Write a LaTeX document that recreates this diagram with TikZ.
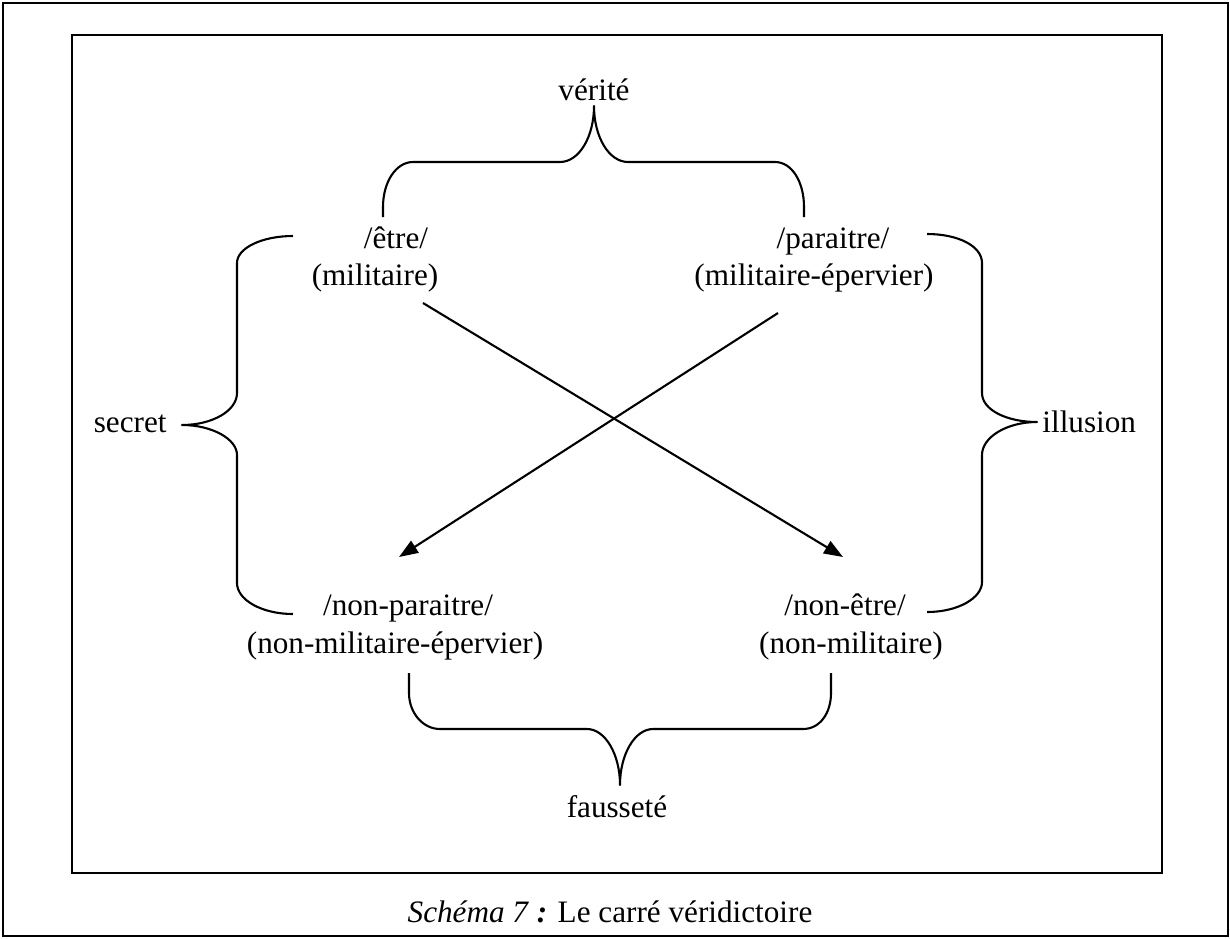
\documentclass[tikz,border=0pt]{standalone}
\usepackage{fontspec}
\setmainfont{Liberation Serif}
\usetikzlibrary{arrows.meta}
\begin{document}
\begin{tikzpicture}[x=0.5pt,y=-0.5pt,
  lbl/.style={inner sep=0pt, anchor=base, font=\fontsize{15.6}{18}\selectfont},
  bracepath/.style={line width=1.05pt, line join=round},
  frameline/.style={line width=1.3pt},
  arr/.style={line width=1.05pt, -{Triangle[length=9.5pt,width=7pt]}}]
\useasboundingbox (0,0) rectangle (1230,938);
% frames
\draw[frameline] (3,3) rectangle (1228,936);
\draw[frameline] (72,35) rectangle (1162,873);
% labels
\node[lbl] (verite) at (594,100) {vérité};
\node[lbl] (etre) at (396,248) {/être/};
\node[lbl] (mil) at (375,285) {(militaire)};
\node[lbl] (paraitre) at (833,248) {/paraitre/};
\node[lbl] (milep) at (814,285) {(militaire-épervier)};
\node[lbl] (nonparaitre) at (408,615) {/non-paraitre/};
\node[lbl] (nonmilep) at (395,653) {(non-militaire-épervier)};
\node[lbl] (nonetre) at (845,615) {/non-être/};
\node[lbl] (nonmil) at (851,653) {(non-militaire)};
\node[lbl, anchor=base east] (secret) at (167,432) {secret};
\node[lbl, anchor=base west] (illusion) at (1042,432) {illusion};
\node[lbl] (faussete) at (617,817) {fausseté};
\node[lbl] (caption) at (610,922) {\textit{Schéma 7}\textbf{\textit{ :}} Le carré véridictoire};
% arrows
\coordinate (a1s) at (423,303);
\coordinate (a1e) at (843,557);
\coordinate (a2s) at (778,313);
\coordinate (a2e) at (399,557);
\draw[arr] (a1s) -- (a1e);
\draw[arr] (a2s) -- (a2e);
% top brace (verite)
\coordinate (tbL) at (383,217);
\coordinate (tbR) at (804,217);
\coordinate (tbT) at (594,106);
\draw[bracepath] (tbL) -- (383,207) .. controls (383,182) and (396,162) .. (413,162)
  -- (560,162) .. controls (579,162) and (594,137) .. (tbT)
  .. controls (594,137) and (609,162) .. (628,162)
  -- (775,162) .. controls (792,162) and (804,182) .. (804,207) -- (tbR);
% bottom brace (faussete)
\coordinate (bbL) at (409,673);
\coordinate (bbR) at (831,673);
\coordinate (bbT) at (620,785);
\draw[bracepath] (bbL) -- (409,693) .. controls (409,713) and (423,729) .. (440,729)
  -- (587,729) .. controls (605,729) and (620,754) .. (bbT)
  .. controls (620,754) and (635,729) .. (653,729)
  -- (803,729) .. controls (820,729) and (831,713) .. (831,693) -- (bbR);
% left brace (secret)
\coordinate (lbT) at (293,236);
\coordinate (lbB) at (293,614);
\coordinate (lbM) at (182,425);
\draw[bracepath] (lbT) .. controls (262,236) and (237,248) .. (237,263)
  -- (237,393) .. controls (237,411) and (212,425) .. (lbM)
  .. controls (212,425) and (237,439) .. (237,455)
  -- (237,583) .. controls (237,600) and (262,614) .. (lbB);
% right brace (illusion)
\coordinate (rbT) at (927,234);
\coordinate (rbB) at (927,612);
\coordinate (rbM) at (1037,422);
\draw[bracepath] (rbT) .. controls (958,234) and (982,246) .. (982,263)
  -- (982,393) .. controls (982,410) and (1007,422) .. (rbM)
  .. controls (1007,422) and (982,437) .. (982,455)
  -- (982,582) .. controls (982,598) and (958,612) .. (rbB);
\end{tikzpicture}
\end{document}
